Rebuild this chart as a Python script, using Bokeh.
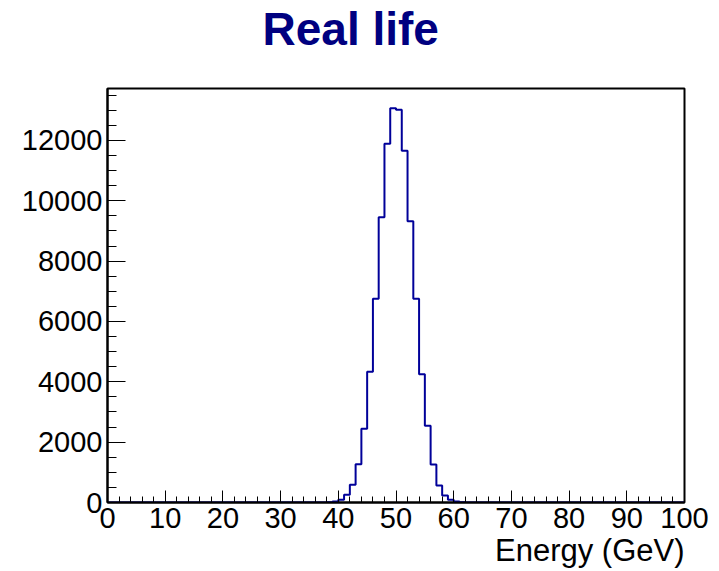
from bokeh.plotting import figure
from bokeh.models import Range1d, FixedTicker, Title
from bokeh.embed import file_html
from bokeh.resources import INLINE

# Histogram: 100 bins of 1 GeV from 0 to 100 GeV
bin_width = 1.0
x_min, x_max = 0.0, 100.0

# Non-empty bins: lower edge (GeV) and entries
filled_bin_lows = [37, 38, 39, 40, 41, 42, 43, 44, 45, 46, 47, 48, 49,
                   50, 51, 52, 53, 54, 55, 56, 57, 58, 59, 60, 61, 62]
filled_counts = [2, 9, 30, 92, 258, 585, 1267, 2446, 4330, 6754, 9455, 11890, 13069,
                 13014, 11659, 9322, 6754, 4254, 2545, 1256, 562, 231, 89, 30, 8, 2]

title_text = "Real life"
x_title = "Energy (GeV)"
x_ticks = [0, 10, 20, 30, 40, 50, 60, 70, 80, 90, 100]
x_minor = list(range(0, 101, 2))
y_ticks = [0, 2000, 4000, 6000, 8000, 10000, 12000]
y_minor = list(range(0, 14001, 500))

n_bins = int((x_max - x_min) / bin_width)
counts = [0] * n_bins
for lo, c in zip(filled_bin_lows, filled_counts):
    counts[int((lo - x_min) / bin_width)] = c

edges = [x_min + i * bin_width for i in range(n_bins + 1)]
step_x = edges
step_y = counts + [counts[-1]]

y_top = 1.05 * max(counts)

p = figure(width=719, height=571, output_backend="svg", toolbar_location=None,
           x_range=Range1d(x_min, x_max), y_range=Range1d(0, y_top),
           min_border_left=107, min_border_right=35,
           min_border_top=88, min_border_bottom=69)
p.title = None
p.background_fill_color = "white"
p.border_fill_color = "white"
p.outline_line_color = "black"
p.outline_line_width = 2
p.xgrid.visible = False
p.ygrid.visible = False

font = "Liberation Sans"

# Empty band between the frame and the title
p.add_layout(Title(text=" ", text_font_size="1px", standoff=28), "above")
# Main title, near the top of the canvas
p.add_layout(Title(text=title_text, align="left", offset=155,
                   vertical_align="top", standoff=2,
                   text_font=font, text_font_style="bold",
                   text_font_size="46px", text_color="#000080"), "above")

p.xaxis.ticker = FixedTicker(ticks=x_ticks, minor_ticks=x_minor)
p.yaxis.ticker = FixedTicker(ticks=y_ticks, minor_ticks=y_minor)
for ax in (p.xaxis[0], p.yaxis[0]):
    ax.axis_line_width = 2
    ax.axis_line_color = "black"
    ax.major_tick_out = 0
    ax.minor_tick_out = 0
    ax.major_tick_line_color = "black"
    ax.minor_tick_line_color = "black"
    ax.major_label_text_font = font
    ax.major_label_text_font_size = "29px"
    ax.major_label_text_color = "black"
p.xaxis.major_tick_in = 12
p.xaxis.minor_tick_in = 6
p.yaxis.major_tick_in = 18
p.yaxis.minor_tick_in = 9
p.xaxis.major_label_standoff = 5
p.yaxis.major_label_standoff = 5

# x-axis title, flush with the right edge of the frame
p.add_layout(Title(text=x_title, align="right", standoff=0,
                   text_font=font, text_font_style="normal",
                   text_font_size="31px", text_color="black"), "below")

p.step(step_x, step_y, mode="after", line_color="#000099", line_width=2)

with open("out.html", "w") as f:
    f.write(file_html(p, INLINE))
